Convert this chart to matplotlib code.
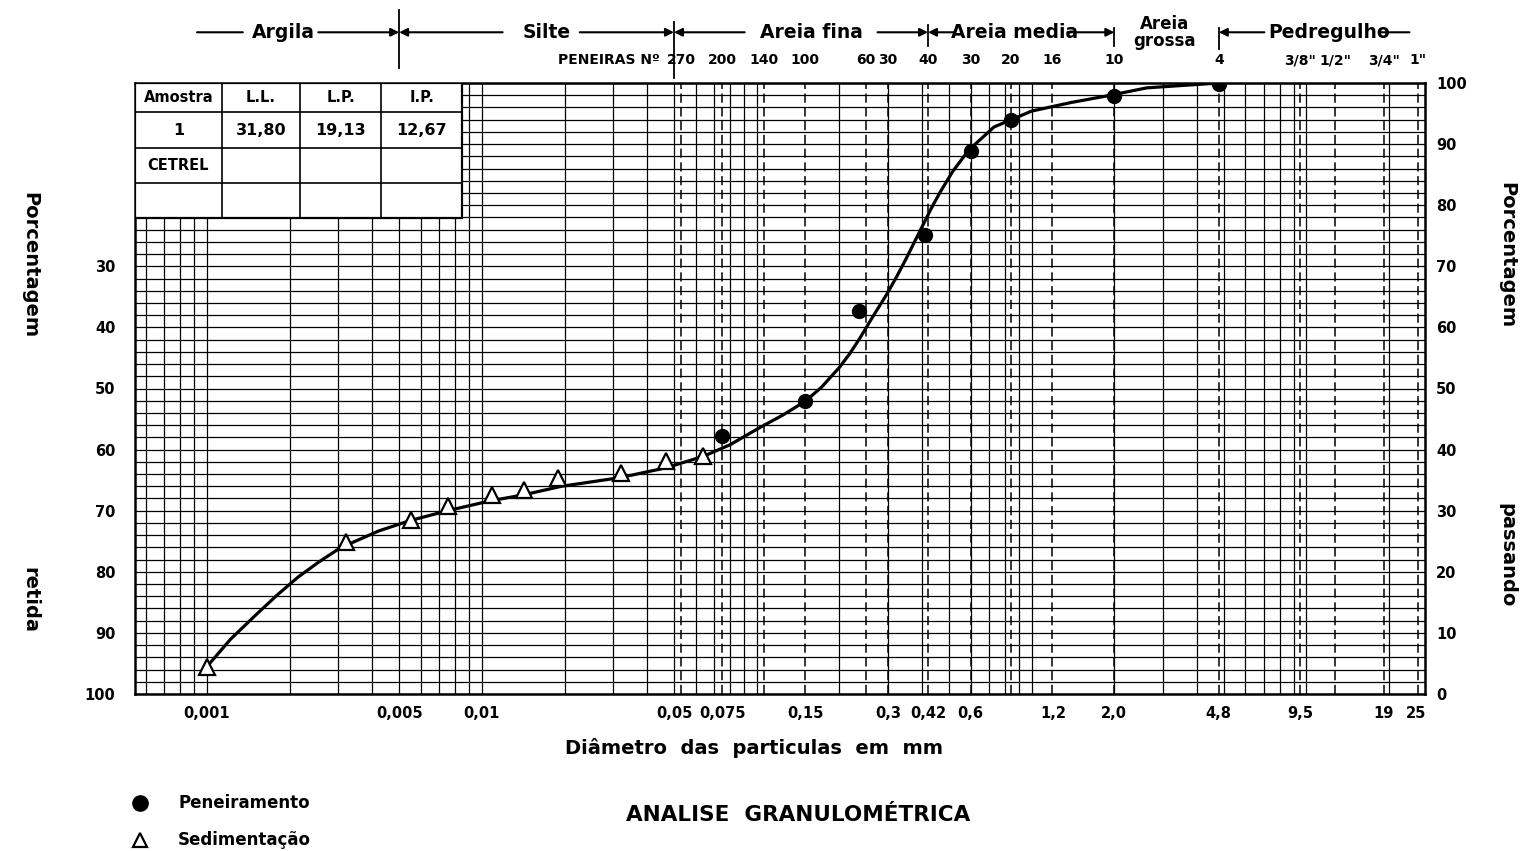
import numpy as np
import matplotlib
matplotlib.use("Agg")
import matplotlib.pyplot as plt
from matplotlib.transforms import blended_transform_factory
from matplotlib.lines import Line2D

plt.rcParams['font.family'] = ['DejaVu Sans']
plt.rcParams['font.weight'] = 'bold'

# peneiramento (sieve) points: diameter in mm, % passing
pen_d = [0.075, 0.15, 0.235, 0.408, 0.6, 0.84, 2.0, 4.8]
pen_p = [42.2, 47.9, 62.7, 75.1, 88.8, 94.0, 97.9, 99.8]

# sedimentacao points
sed_d = [0.001, 0.0032, 0.0055, 0.0075, 0.0109, 0.0142, 0.019, 0.032, 0.0466, 0.064]
sed_p = [4.5, 24.8, 28.5, 30.8, 32.6, 33.4, 35.3, 36.2, 38.1, 38.9]

# hand drawn curve
curve_d = [0.001, 0.00122, 0.00151, 0.0018, 0.00214, 0.00255, 0.00305, 0.00422,
           0.0055, 0.0075, 0.0107, 0.0142, 0.0195, 0.0317, 0.0466, 0.064, 0.08,
           0.1026, 0.125, 0.15, 0.172, 0.2003, 0.218, 0.237, 0.264, 0.297, 0.323,
           0.351, 0.375, 0.402, 0.433, 0.463, 0.516, 0.59, 0.73, 1.0, 1.39, 1.94,
           2.62, 4.8]
curve_p = [4.5, 9.0, 13.0, 16.2, 19.1, 21.6, 23.9, 26.7,
           28.4, 30.0, 31.6, 32.6, 34.0, 35.4, 37.0, 38.9, 40.8,
           43.6, 45.7, 47.9, 50.2, 53.5, 55.7, 58.2, 61.7, 65.4, 68.3,
           71.4, 74.0, 76.7, 79.6, 82.0, 85.5, 89.0, 92.8, 95.4, 96.8, 98.0,
           99.2, 100.0]

# x axis labels
x_ticks = [0.001, 0.005, 0.01, 0.05, 0.075, 0.15, 0.3, 0.42, 0.6, 1.2, 2.0, 4.8, 9.5, 19, 25]
x_labels = ["0,001", "0,005", "0,01", "0,05", "0,075", "0,15", "0,3", "0,42", "0,6",
            "1,2", "2,0", "4,8", "9,5", "19", "25"]

# sieve numbers along the top
sieve_no = ["270", "200", "140", "100", "60", "30", "40", "30", "20", "16", "10", "4",
            '3/8"', '1/2"', '3/4"', '1"']
sieve_mm = [0.053, 0.075, 0.106, 0.15, 0.25, 0.30, 0.42, 0.60, 0.84, 1.19, 2.0, 4.8,
            9.5, 12.7, 19.1, 25.4]

# soil classes along the top
zone_names = ["Argila", "Silte", "Areia fina", "Areia media", "Areia\ngrossa", "Pedregulho"]
zone_mid = [0.00189, 0.0172, 0.158, 0.867, 3.05, 12.1]
zone_bounds = [0.005, 0.05, 0.42, 2.0, 4.8]

# consistency limits table
tab_head = ["Amostra", "L.L.", "L.P.", "I.P."]
tab_row = ["1", "31,80", "19,13", "12,67"]
tab_lab = "CETREL"

fig = plt.figure(figsize=(15.25, 8.51), dpi=100)
ax = fig.add_axes([135 / 1525, 1 - 694 / 851, 1290 / 1525, 611 / 851])
ax.set_xscale('log')
ax.set_xlim(0.000547, 27)
ax.set_ylim(0, 100)

# log paper grid
for e in range(-4, 2):
    for m in range(1, 10):
        v = m * 10.0 ** e
        if 0.000547 < v < 27:
            ax.axvline(v, color='black', lw=0.9, zorder=1)
for s in sieve_mm:
    ax.axvline(s, color='black', lw=1.1, ls=(0, (6, 3)), zorder=1)
for h in range(0, 101, 2):
    ax.axhline(h, color='black', lw=0.9, zorder=1)

# curve and points
ax.plot(curve_d, curve_p, color='black', lw=2.3, zorder=5, solid_joinstyle='round')
ax.plot(pen_d, pen_p, 'o', ms=10, color='black', zorder=6)
ax.plot(sed_d, sed_p, '^', ms=11, mfc='white', mec='black', mew=1.6, zorder=6)

for sp in ax.spines.values():
    sp.set_linewidth(1.8)

ax.set_xticks(x_ticks)
ax.set_xticklabels(x_labels, fontsize=10.5, fontweight='bold')
ax.xaxis.set_minor_locator(matplotlib.ticker.NullLocator())
ax.tick_params(axis='x', length=0, pad=9)

# retained % on the left (below the table), passing % on the right
ax.set_yticks([70, 60, 50, 40, 30, 20, 10, 0])
ax.set_yticklabels(["30", "40", "50", "60", "70", "80", "90", "100"], fontsize=10.5, fontweight='bold')
ax.tick_params(axis='y', length=0, pad=14)
ax2 = ax.twinx()
ax2.set_ylim(0, 100)
ax2.set_yticks(range(0, 101, 10))
ax2.set_yticklabels([str(v) for v in range(0, 101, 10)], fontsize=10.5, fontweight='bold')
ax2.tick_params(axis='y', length=0, pad=8)
for sp in ax2.spines.values():
    sp.set_visible(False)

# table
tx = [0, 0.0674, 0.128, 0.191, 0.2535]
ty = [1.0, 0.9525, 0.8936, 0.8363, 0.779]
ax.add_patch(plt.Rectangle((0, ty[-1]), tx[-1], 1 - ty[-1], transform=ax.transAxes,
                           facecolor='white', edgecolor='black', lw=1.6, zorder=7))
for x in tx[1:-1]:
    ax.plot([x, x], [ty[-1], 1], transform=ax.transAxes, color='black', lw=1.2, zorder=8)
for y in ty[1:-1]:
    ax.plot([0, tx[-1]], [y, y], transform=ax.transAxes, color='black', lw=1.2, zorder=8)
for i in range(4):
    cx = (tx[i] + tx[i + 1]) / 2
    ax.text(cx, (ty[0] + ty[1]) / 2, tab_head[i], transform=ax.transAxes, ha='center',
            va='center', fontsize=10.5, fontweight='bold', zorder=9)
    ax.text(cx, (ty[1] + ty[2]) / 2, tab_row[i], transform=ax.transAxes, ha='center',
            va='center', fontsize=11.5, fontweight='bold', zorder=9)
ax.text((tx[0] + tx[1]) / 2, (ty[2] + ty[3]) / 2, tab_lab, transform=ax.transAxes,
        ha='center', va='center', fontsize=10.5, fontweight='bold', zorder=9)

# top header
trans = blended_transform_factory(ax.transData, ax.transAxes)
yh = 1.083
for name, xm in zip(zone_names, zone_mid):
    if "\n" in name:
        ax.text(xm, yh, name, transform=trans, ha='center', va='center', fontsize=12,
                fontweight='bold', linespacing=0.9, clip_on=False)
    else:
        ax.text(xm, yh, name, transform=trans, ha='center', va='center', fontsize=13.5,
                fontweight='bold', clip_on=False)
segs = [(0.00092, 0.00135, False), (0.00254, 0.005, True), (0.0119, 0.005, True),
        (0.0227, 0.05, True), (0.0904, 0.05, True), (0.275, 0.42, True),
        (0.525, 0.42, True), (1.35, 2.0, True), (7.03, 4.8, True), (18.4, 23.7, False)]
for a, b, head in segs:
    ax.annotate('', xy=(b, yh), xytext=(a, yh), xycoords=trans, textcoords=trans,
                annotation_clip=False,
                arrowprops=dict(arrowstyle='-|>' if head else '-', color='black', lw=1.5,
                                mutation_scale=12, shrinkA=0, shrinkB=0))
bound_y = [(1.025, 1.12), (1.008, 1.10), (1.06, 1.095), (1.06, 1.09), (1.055, 1.09)]
for b, (y0, y1) in zip(zone_bounds, bound_y):
    ax.plot([b, b], [y0, y1], transform=trans, color='black', lw=1.3, clip_on=False)

ax.text(0.407, 1.037, "PENEIRAS Nº", transform=ax.transAxes, ha='right', va='center',
        fontsize=10, fontweight='bold')
for lab, s in zip(sieve_no, sieve_mm):
    ax.text(s, 1.037, lab, transform=trans, ha='center', va='center', fontsize=10,
            fontweight='bold', clip_on=False)

# labels
fig.text(754 / 1525, 0.121, "Diâmetro  das  particulas  em  mm", ha='center', va='center',
         fontsize=14, fontweight='bold')
fig.text(30 / 1525, 1 - 265 / 851, "Porcentagem", rotation=-90, ha='center', va='center',
         fontsize=14, fontweight='bold')
fig.text(30 / 1525, 1 - 600 / 851, "retida", rotation=-90, ha='center', va='center',
         fontsize=14, fontweight='bold')
fig.text(1507 / 1525, 1 - 255 / 851, "Porcentagem", rotation=-90, ha='center', va='center',
         fontsize=14, fontweight='bold')
fig.text(1507 / 1525, 1 - 555 / 851, "passando", rotation=-90, ha='center', va='center',
         fontsize=14, fontweight='bold')
fig.text(798 / 1525, 1 - 815 / 851, "ANALISE  GRANULOMÉTRICA", ha='center', va='center',
         fontsize=15.5, fontweight='bold')

# legend
fig.add_artist(Line2D([140 / 1525], [1 - 803 / 851], marker='o', ms=11, color='black',
                      transform=fig.transFigure))
fig.add_artist(Line2D([140 / 1525], [1 - 840 / 851], marker='^', ms=10, mfc='white',
                      mec='black', mew=1.6, ls='none', transform=fig.transFigure))
fig.text(178 / 1525, 1 - 803 / 851, "Peneiramento", ha='left', va='center', fontsize=12,
         fontweight='bold')
fig.text(178 / 1525, 1 - 840 / 851, "Sedimentação", ha='left', va='center', fontsize=12,
         fontweight='bold')

fig.savefig("out.png", dpi=100)
